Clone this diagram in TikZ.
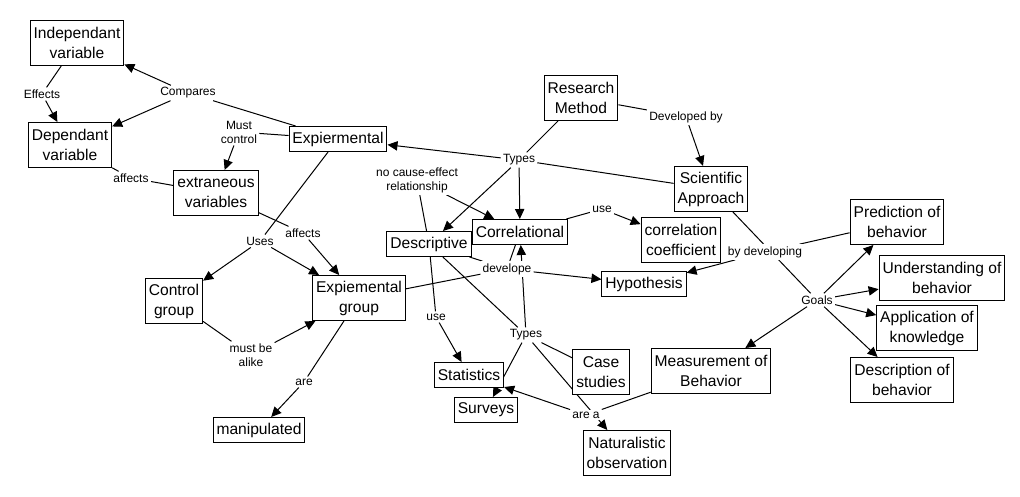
\documentclass[tikz,border=0pt]{standalone}
\usepackage{fontspec}
\setmainfont{Liberation Sans}
\usetikzlibrary{arrows.meta}
\usetikzlibrary{backgrounds}

\begin{document}
\begin{tikzpicture}[x=0.75pt,y=-0.75pt,
    concept/.style={draw,fill=white,line width=0.75pt,align=center,
      inner xsep=2.6pt,inner ysep=2pt,minimum height=18.75pt,
      font=\fontsize{11.7}{15}\selectfont},
    tall/.style={minimum height=33.75pt},
    link/.style={fill=white,inner sep=1.5pt,align=center,
      font=\fontsize{9}{10.5}\selectfont},
    con/.style={line width=0.75pt},
    arr/.style={line width=0.75pt,-{Triangle[length=7.5pt,width=7pt]}}]
    \useasboundingbox (0,0) rectangle (1020,496);
    \node[concept,tall] (indep) at (77,43) {Independant\\variable};
    \node[concept,tall] (dep) at (70,145) {Dependant\\variable};
    \node[concept] (expt) at (338,139) {Expiermental};
    \node[concept,tall] (extr) at (216,193) {extraneous\\variables};
    \node[concept,tall] (rm) at (581,98) {Research\\Method};
    \node[concept,tall] (sa) at (711,189) {Scientific\\Approach};
    \node[concept] (desc) at (429,244) {Descriptive};
    \node[concept] (corr) at (520,232) {Correlational};
    \node[concept,tall] (cc) at (681,240) {correlation\\coefficient};
    \node[concept] (hyp) at (644,284) {Hypothesis};
    \node[concept,tall] (ctrl) at (174,301) {Control\\group};
    \node[concept,tall] (expg) at (359,298) {Expiemental\\group};
    \node[concept] (stat) at (469,375) {Statistics};
    \node[concept] (surv) at (486,410) {Surveys};
    \node[concept,tall] (case) at (601,372) {Case\\studies};
    \node[concept,tall] (nat) at (627,453) {Naturalistic\\observation};
    \node[concept] (manip) at (259,430) {manipulated};
    \node[concept,tall] (meas) at (711,371) {Measurement of\\Behavior};
    \node[concept,tall] (pred) at (897,222) {Prediction of\\behavior};
    \node[concept,tall] (und) at (942,278) {Understanding of\\behavior};
    \node[concept,tall] (app) at (927,328) {Application of\\knowledge};
    \node[concept,tall] (descb) at (902,380) {Description of\\behavior};

    \node[link] (effects) at (42,94) {Effects};
    \node[link] (compares) at (188,93) {Compares};
    \node[link] (mustc) at (239,132) {Must\\control};
    \node[link] (aff1) at (131,178) {affects};
    \node[link] (uses) at (260,241) {Uses};
    \node[link] (aff2) at (303,233) {affects};
    \node[link] (types1) at (519,160) {Types};
    \node[link] (nocause) at (417,180) {no cause-effect\\relationship};
    \node[link] (devby) at (686,117) {Developed by};
    \node[link] (use1) at (602,209) {use};
    \node[link] (bydev) at (765,252) {by developing};
    \node[link] (goals) at (817,300) {Goals};
    \node[link] (devel) at (507,269) {develope};
    \node[link] (use2) at (436,317) {use};
    \node[link] (types2) at (526,335) {Types};
    \node[link] (alike) at (251,355) {must be\\alike};
    \node[link] (are) at (304,382) {are};
    \node[link] (area) at (586,415) {are a};

    \begin{pgfonlayer}{background}
      \draw[con] (indep) -- (effects);
      \draw[arr] (effects) -- (dep);
      \draw[con] (expt) -- (compares);
      \draw[arr] (compares) -- (indep);
      \draw[arr] (compares) -- (dep);
      \draw[con] (expt) -- (mustc);
      \draw[arr] (mustc) -- (extr);
      \draw[con] (extr) -- (aff1);
      \draw[con] (aff1) -- (dep);
      \draw[con] (extr) -- (aff2);
      \draw[arr] (aff2) -- (expg);
      \draw[con] (expt) -- (uses);
      \draw[arr] (uses) -- (ctrl);
      \draw[arr] (uses) -- (expg);
      \draw[con] (rm) -- (types1);
      \draw[con] (sa) -- (types1);
      \draw[arr] (types1) -- (expt);
      \draw[arr] (types1) -- (desc);
      \draw[arr] (types1) -- (corr);
      \draw[con] (desc) -- (nocause);
      \draw[arr] (nocause) -- (corr);
      \draw[con] (rm) -- (devby);
      \draw[arr] (devby) -- (sa);
      \draw[con] (corr) -- (use1);
      \draw[arr] (use1) -- (cc);
      \draw[con] (pred) -- (bydev);
      \draw[arr] (bydev) -- (hyp);
      \draw[con] (sa) -- (goals);
      \draw[arr] (goals) -- (pred);
      \draw[arr] (goals) -- (und);
      \draw[arr] (goals) -- (app);
      \draw[arr] (goals) -- (descb);
      \draw[arr] (goals) -- (meas);
      \draw[con] (desc) -- (devel);
      \draw[con] (corr) -- (devel);
      \draw[con] (expg) -- (devel);
      \draw[arr] (devel) -- (hyp);
      \draw[con] (desc) -- (use2);
      \draw[arr] (use2) -- (stat);
      \draw[con] (desc) -- (types2);
      \draw[arr] (types2) -- (corr);
      \draw[arr] (types2) -- (surv);
      \draw[con] (types2) -- (case);
      \draw[arr] (types2) -- (nat);
      \draw[con] (meas) -- (area);
      \draw[arr] (area) -- (stat);
      \draw[con] (ctrl) -- (alike);
      \draw[arr] (alike) -- (expg);
      \draw[con] (expg) -- (are);
      \draw[arr] (are) -- (manip);
    \end{pgfonlayer}
\end{tikzpicture}
\end{document}
